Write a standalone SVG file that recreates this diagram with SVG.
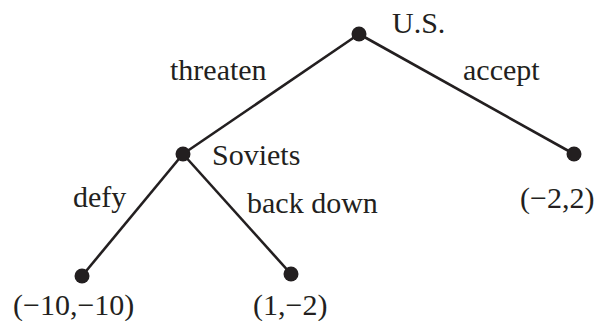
<svg xmlns="http://www.w3.org/2000/svg" width="607" height="321" viewBox="0 0 607 321" font-family="Liberation Serif, Times New Roman, serif">
<style>
.e{stroke:#231f20;stroke-width:2.6;fill:none}
.n{fill:#231f20}
.t{font-size:30px;fill:#231f20}
</style>
<rect width="607" height="321" fill="#fff"/>
<g id="connectors">
<line class="e" x1="359" y1="34" x2="183" y2="154"/>
<line class="e" x1="359" y1="34" x2="574" y2="154"/>
<line class="e" x1="183" y1="154" x2="82" y2="276"/>
<line class="e" x1="183" y1="154" x2="291" y2="274"/>
<text class="t" font-family="Liberation Serif" x="170" y="80">threaten</text>
<text class="t" font-family="Liberation Serif" x="463" y="80">accept</text>
<text class="t" font-family="Liberation Serif" x="73" y="207">defy</text>
<text class="t" font-family="Liberation Serif" x="247" y="213">back down</text>
</g>
<g id="us"><circle class="n" cx="359" cy="34" r="7.5"/><text class="t" font-family="Liberation Serif" x="392" y="33">U.S.</text></g>
<g id="soviets"><circle class="n" cx="183" cy="154" r="7.5"/><text class="t" font-family="Liberation Serif" x="212" y="165">Soviets</text></g>
<g id="accept-leaf"><circle class="n" cx="574" cy="154" r="7.5"/><text class="t" font-family="Liberation Serif" x="520" y="208">(−2,2)</text></g>
<g id="defy-leaf"><circle class="n" cx="82" cy="276" r="7.5"/><text class="t" font-family="Liberation Serif" x="13" y="315">(−10,−10)</text></g>
<g id="backdown-leaf"><circle class="n" cx="291" cy="274" r="7.5"/><text class="t" font-family="Liberation Serif" x="253" y="315">(1,−2)</text></g>
</svg>
